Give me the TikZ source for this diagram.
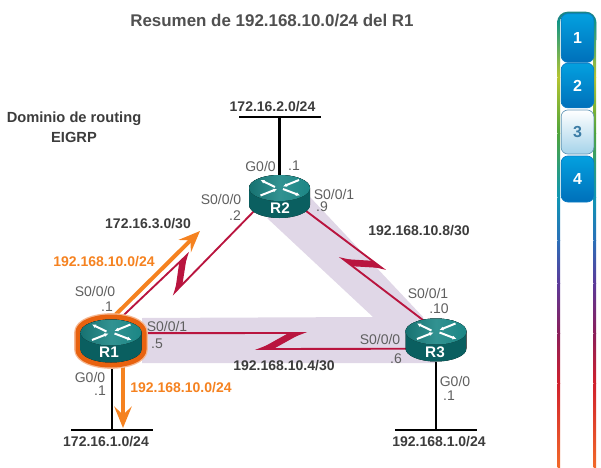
\documentclass[tikz,border=0pt]{standalone}
\usepackage{fontspec}
\setmainfont{Liberation Sans}
\usetikzlibrary{positioning,calc,arrows.meta,shapes.geometric}
\definecolor{NetGray}{HTML}{5F5F5F}
\definecolor{NetDark}{HTML}{3C3C3C}
\definecolor{NetOrange}{HTML}{F58220}
\definecolor{NetHalo}{HTML}{E8620F}
\definecolor{NetRed}{HTML}{B9153F}
\definecolor{NetBand}{HTML}{E0D7E7}
\definecolor{NetTeal}{HTML}{1B8685}
\definecolor{NetTealDark}{HTML}{0A5F60}
\definecolor{NetTealLight}{HTML}{45A8A5}
\definecolor{NetBlue}{HTML}{0B7CC4}
\definecolor{NetBlueTop}{HTML}{03A0DF}
\definecolor{NetBlueLow}{HTML}{0070BA}
\definecolor{NetPale}{HTML}{A5D3EA}
\definecolor{NetTabText}{HTML}{3B7CA5}
\newcommand{\routeroutline}{(-30.5,-8.5) -- (-30.5,8.5) arc[start angle=180,end angle=0,x radius=30.5,y radius=13] -- (30.5,-8.5) arc[start angle=0,end angle=-180,x radius=30.5,y radius=13] -- cycle}
\tikzset{
  routerpic/.pic={
    \fill[left color=NetTealDark,middle color=NetTealLight,right color=NetTealDark] \routeroutline;
    \fill[left color=NetTeal!85!black,right color=NetTeal,middle color=NetTeal!90!white] (0,-8.5) ellipse[x radius=30.5,y radius=13];
    \draw[routerarrow,{Latex[length=3pt,width=3pt]}-] (-19,-16.5) -- (-4.5,-9.5);
    \draw[routerarrow,-{Latex[length=3pt,width=3pt]}] (19.5,-16.5) -- (3.5,-10);
    \draw[routerarrow,-{Latex[length=3pt,width=3pt]}] (-19,-1) -- (-2.5,-7.5);
    \draw[routerarrow,{Latex[length=3pt,width=3pt]}-] (20.5,-1) -- (3.5,-7.5);
  },
  halopic/.pic={
    \draw[NetHalo!45,line width=9.5pt,line join=round] \routeroutline;
    \draw[NetHalo,line width=7.5pt,line join=round] \routeroutline;
  }
}
\begin{document}
\begin{tikzpicture}[x=0.75pt,y=-0.75pt,
    routerarrow/.style={white,line width=1.5pt},
    router/.style={ellipse,minimum width=46.5pt,minimum height=32.25pt,inner sep=0pt},
    routername/.style={font=\bfseries\fontsize{11.5}{13}\selectfont,text=white,inner sep=0pt},
    lanbar/.style={fill=black,minimum width=61.5pt,minimum height=1.6pt,inner sep=0pt},
    lanlink/.style={black,line width=1.6pt},
    serial/.style={NetRed,line width=1.4pt},
    bolt/.style={fill=NetRed},
    sumarrow/.style={NetOrange,line width=3pt,-{Stealth[length=16pt,width=13pt,inset=6pt]}},
    port/.style={font=\fontsize{10.5}{12}\selectfont,text=NetGray,inner sep=0pt},
    subnet/.style={font=\bfseries\fontsize{10.5}{12}\selectfont,text=NetDark,inner sep=0pt},
    sumlabel/.style={font=\bfseries\fontsize{10.5}{12}\selectfont,text=NetOrange,inner sep=0pt},
    tabbtn/.style={rounded corners=5pt,minimum width=24.5pt,inner sep=0pt,line width=0.5pt,
      font=\bfseries\fontsize{12}{14}\selectfont},
    tabon/.style={tabbtn,draw=NetBlue,top color=NetBlueTop,bottom color=NetBlueLow,text=white},
    taboff/.style={tabbtn,draw=NetTabText!80,top color=white,bottom color=NetPale,text=NetTabText}
  ]
    \useasboundingbox (0,0) rectangle (601,468);

    \fill[NetBand] (142,318) -- (373,317) -- (267,218) -- (310,197) -- (423,317) -- (436,363) -- (142,363) -- cycle;

    \node[router] (r1) at (111,341) {};
    \node[router] (r2) at (279.5,196.5) {};
    \node[router] (r3) at (436,340) {};
    \node[lanbar] (lan1) at (112,430) {};
    \node[lanbar] (lan2) at (279.5,117) {};
    \node[lanbar] (lan3) at (436,430) {};
    \coordinate (b12a) at (187,255);
    \coordinate (b12b) at (175,292);
    \coordinate (b23a) at (382,268);
    \coordinate (b23b) at (343,259);
    \coordinate (b13a) at (302,333);
    \coordinate (b13b) at (260,349);
    \coordinate (sumup) at (200,231);
    \coordinate (sumdown) at (123,428);

    \draw[lanlink] (lan1 |- r1.south) -- (lan1);
    \draw[lanlink] (r2) -- (lan2);
    \draw[lanlink] (r3) -- (lan3);
    \draw[serial] (r1.70) -- (b12a) -- (b12b) -- (r2.209);
    \draw[serial] (r2.-28) -- (b23a) -- (b23b) -- (r3.123);
    \draw[serial] (r1.15.5) -- (b13a) -- (b13b) -- (r3.197.7);
    \fill[bolt] (b12a) -- ($(b12a)!8pt!(r1.70)$) -- (b12b) -- ($(b12b)!8pt!(r2.209)$) -- cycle;
    \fill[bolt] (b23a) -- ($(b23a)!9pt!(r2.-28)$) -- (b23b) -- ($(b23b)!9pt!(r3.123)$) -- cycle;
    \fill[bolt] (b13a) -- ($(b13a)!10pt!(r1.15.5)$) -- (b13b) -- ($(b13b)!10pt!(r3.197.7)$) -- cycle;
    \draw[sumarrow] (r1.north) -- (sumup);
    \draw[sumarrow] (sumdown |- r1.south) -- (sumdown);

    \pic at (r1) {halopic};
    \pic at (r1) {routerpic};
    \pic at (r2) {routerpic};
    \pic at (r3) {routerpic};
    \node[routername] (r1name) at (109,352) {R1};
    \node[routername] (r2name) at (280,208) {R2};
    \node[routername] (r3name) at (435,352) {R3};

    \node[font=\bfseries\fontsize{12.7}{15}\selectfont,text=NetDark!90,inner sep=0pt] (title) at (272,21) {Resumen de 192.168.10.0/24 del R1};
    \node[subnet,font=\bfseries\fontsize{11}{12}\selectfont,align=center] (domain) at (74,127.5) {Dominio de routing\\[3pt]EIGRP};

    \node[subnet] (net3) at (148,224) {172.16.3.0/30};
    \node[subnet] (net1) at (106,442) {172.16.1.0/24};
    \node[subnet] (net2) at (272.5,107) {172.16.2.0/24};
    \node[subnet] (net8) at (419,231) {192.168.10.8/30};
    \node[subnet] (net4) at (284,366) {192.168.10.4/30};
    \node[subnet] (net5) at (439,442) {192.168.1.0/24};
    \node[sumlabel] (sumtop) at (104,262) {192.168.10.0/24};
    \node[sumlabel] (sumlow) at (181,388) {192.168.10.0/24};

    \node[port] (p1a) at (95,291) {S0/0/0};
    \node[port] (p1b) at (107,307) {.1};
    \node[port] (p1c) at (167,326) {S0/0/1};
    \node[port] (p1d) at (157,344) {.5};
    \node[port] (p1e) at (90,377) {G0/0};
    \node[port] (p1f) at (100,391) {.1};
    \node[port] (p2a) at (260.5,166) {G0/0};
    \node[port] (p2b) at (294,166) {.1};
    \node[port] (p2c) at (221,199) {S0/0/0};
    \node[port] (p2d) at (235,216) {.2};
    \node[port] (p2e) at (334,194) {S0/0/1};
    \node[port] (p2f) at (322,207) {.9};
    \node[port] (p3a) at (428,293) {S0/0/1};
    \node[port] (p3b) at (439,309) {.10};
    \node[port] (p3c) at (380,339) {S0/0/0};
    \node[port] (p3d) at (396,359) {.6};
    \node[port] (p3e) at (455,381) {G0/0};
    \node[port] (p3f) at (449,396) {.1};

    \draw[line width=2pt,rounded corners=7pt,draw=NetTeal] (558.5,40) -- (558.5,13) -- (595,13) -- (595,40);
    \foreach \ya/\yb/\ca/\cb in {20/77/0E9488/B5C430,77/133/B5C430/4FA43A,133/197/4FA43A/0E96B4,197/240/0E96B4/2A70B8,240/283/2A70B8/5B3A9A,283/333/5B3A9A/8A1E5A,333/383/8A1E5A/D0202C,383/468/D0202C/F26A2A}{
      \definecolor{railtop}{HTML}{\ca}
      \definecolor{raillow}{HTML}{\cb}
      \fill[top color=railtop,bottom color=raillow] (557.5,\ya) rectangle (560,\yb);
      \fill[top color=railtop,bottom color=raillow] (593.5,\ya) rectangle (596,\yb);
    }
    \node[tabon,minimum height=36.5pt] (tab1) at (577.5,38) {1};
    \node[tabon,minimum height=33.5pt] (tab2) at (577.5,85.5) {2};
    \node[taboff,minimum height=33pt] (tab3) at (577.5,132) {3};
    \node[tabon,minimum height=34.5pt] (tab4) at (577.5,179) {4};
  \end{tikzpicture}
\end{document}
